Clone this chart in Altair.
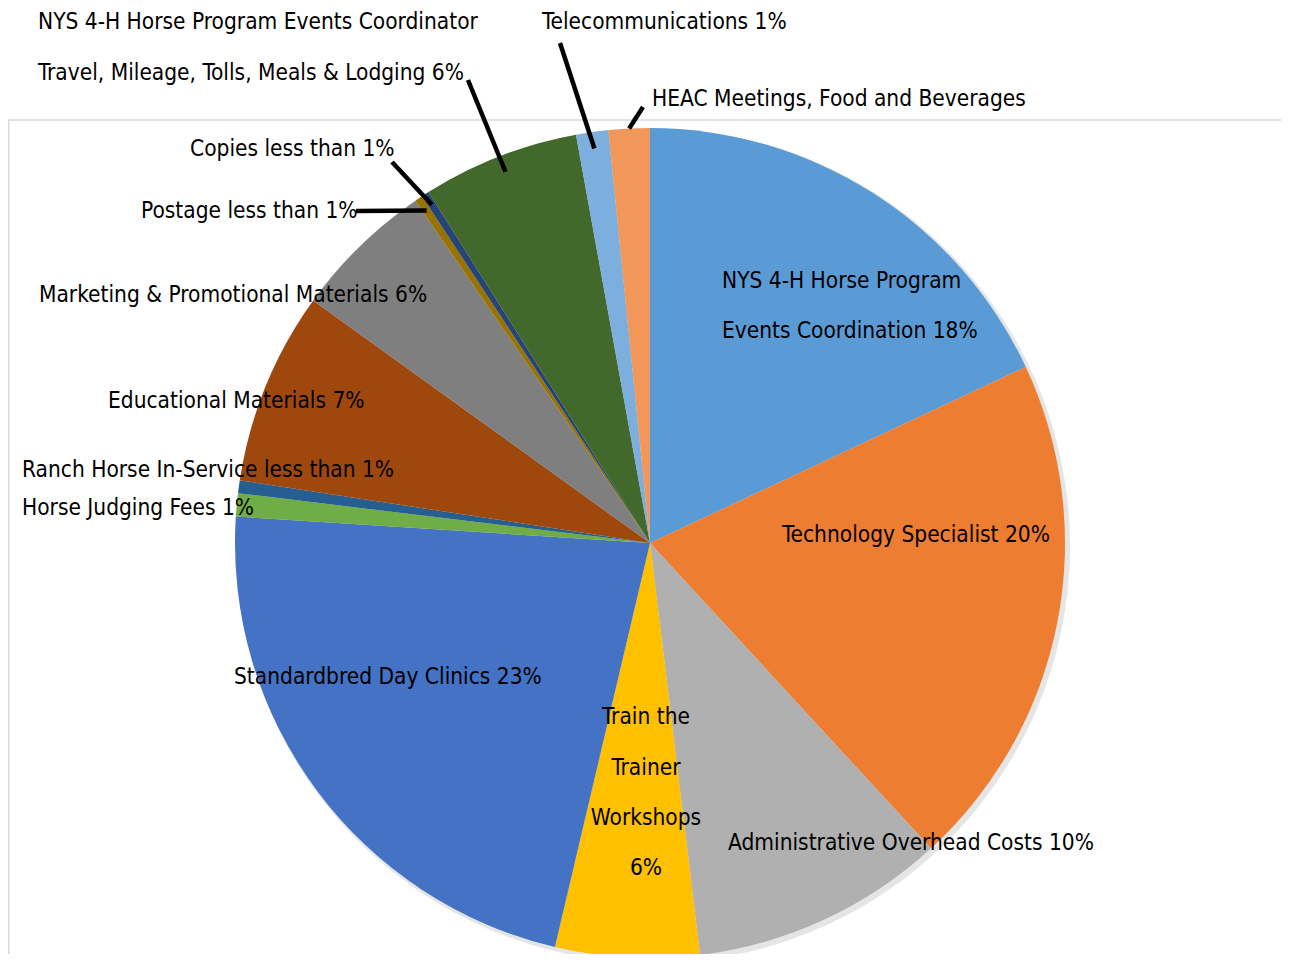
import math
import altair as alt
import pandas as pd

# ---------------- data ----------------
categories = [
    "NYS 4-H Horse Program Events Coordination",
    "Technology Specialist",
    "Administrative Overhead Costs",
    "Train the Trainer Workshops",
    "Standardbred Day Clinics",
    "Horse Judging Fees",
    "Ranch Horse In-Service",
    "Educational Materials",
    "Marketing & Promotional Materials",
    "Postage",
    "Copies",
    "Travel, Mileage, Tolls, Meals & Lodging",
    "Telecommunications",
    "HEAC Meetings, Food and Beverages",
]
values = [18.0, 20.1, 9.9, 5.6, 22.3, 0.9, 0.5, 7.5, 5.5, 0.3, 0.3, 6.1, 1.25, 1.6]
colors = [
    "#5B9BD5", "#ED7D31", "#B0B0B0", "#FFC000", "#4472C4", "#70AD47", "#255E91",
    "#9E480E", "#7F7F7F", "#997300", "#264478", "#43682B", "#7CAFDD", "#F1975A",
]

# label texts (one entry per printed line)
label_texts = [
    "NYS 4-H Horse Program Events Coordinator",
    "Travel, Mileage, Tolls, Meals & Lodging 6%",
    "Telecommunications 1%",
    "HEAC Meetings, Food and Beverages",
    "Copies less than 1%",
    "Postage less than 1%",
    "Marketing & Promotional Materials 6%",
    "Educational Materials 7%",
    "Ranch Horse In-Service less than 1%",
    "Horse Judging Fees 1%",
    "NYS 4-H Horse Program",
    "Events Coordination 18%",
    "Technology Specialist 20%",
    "Standardbred Day Clinics 23%",
    "Administrative Overhead Costs 10%",
]
center_texts = ["Train the", "Trainer", "Workshops", "6%"]

# ---------------- layout (styles, page px minus 8px margin) ----------------
W, H = 1273, 946
CX, CY, R = 642, 535, 415
FONT = "Liberation Sans Narrow, DejaVu Sans Condensed, sans-serif"
FS = 22.5

label_pos = [
    (30, 14), (30, 65), (534, 14), (644, 91), (182, 141), (133, 203),
    (31, 287), (100, 393), (14, 462), (14, 500),
    (714, 273), (714, 323), (774, 527), (226, 669), (720, 835),
]
center_pos = [(638, 709), (638, 760), (638, 810), (638, 860)]

leader_cats = [
    "Travel, Mileage, Tolls, Meals & Lodging",
    "Telecommunications",
    "HEAC Meetings, Food and Beverages",
    "Copies",
    "Postage",
]
leader_end = [(460, 72), (552, 35), (635, 99), (384, 154), (348, 203)]
leader_rf = [0.96, 0.96, 1.0, 0.97, 0.965]

# ---------------- tables ----------------
df = pd.DataFrame({"category": categories, "value": values, "idx": range(len(categories))})
leader_df = pd.DataFrame({
    "category": leader_cats,
    "lx": [p[0] for p in leader_end],
    "ly": [p[1] for p in leader_end],
    "rf": leader_rf,
})
lab_df = pd.DataFrame({
    "text": label_texts,
    "tx": [p[0] for p in label_pos],
    "ty": [p[1] for p in label_pos],
})
cen_df = pd.DataFrame({
    "text": center_texts,
    "tx": [p[0] for p in center_pos],
    "ty": [p[1] for p in center_pos],
})

frame = alt.Chart(pd.DataFrame({"d": [0]})).mark_rule(color="#D9D9D9", strokeWidth=1.5)
frame_top = frame.encode(x=alt.value(0), x2=alt.value(W), y=alt.value(112))
frame_left = frame.encode(x=alt.value(0.75), y=alt.value(112), y2=alt.value(H))

shadow = alt.Chart(df).mark_arc(radius=R + 2, strokeWidth=0, color="black", opacity=0.10).encode(
    theta=alt.Theta("value:Q", stack=True),
    order=alt.Order("idx:Q"),
    x=alt.value(CX + 3),
    y=alt.value(CY + 3),
)

pie = alt.Chart(df).mark_arc(radius=R, strokeWidth=0).encode(
    theta=alt.Theta("value:Q", stack=True),
    color=alt.Color("category:N", scale=alt.Scale(domain=categories, range=colors), legend=None),
    order=alt.Order("idx:Q"),
    x=alt.value(CX),
    y=alt.value(CY),
)

leaders = (
    alt.Chart(df)
    .transform_window(cum="sum(value)", sort=[alt.SortField("idx")], frame=[None, 0])
    .transform_joinaggregate(total="sum(value)")
    .transform_lookup(lookup="category", from_=alt.LookupData(leader_df, "category", ["lx", "ly", "rf"]))
    .transform_filter("isValid(datum.lx)")
    .transform_calculate(ang="2*PI*(datum.cum - datum.value/2)/datum.total")
    .transform_calculate(
        ax=f"{CX} + {R}*datum.rf*sin(datum.ang)",
        ay=f"{CY} - {R}*datum.rf*cos(datum.ang)",
    )
    .mark_rule(color="black", strokeWidth=4.5)
    .encode(
        x=alt.X("ax:Q", scale=None, axis=None),
        y=alt.Y("ay:Q", scale=None, axis=None),
        x2="lx:Q",
        y2="ly:Q",
    )
)

labels = alt.Chart(lab_df).mark_text(
    align="left", baseline="middle", font=FONT, fontSize=FS, color="black"
).encode(
    x=alt.X("tx:Q", scale=None, axis=None),
    y=alt.Y("ty:Q", scale=None, axis=None),
    text="text:N",
)

clabels = alt.Chart(cen_df).mark_text(
    align="center", baseline="middle", font=FONT, fontSize=FS, color="black"
).encode(
    x=alt.X("tx:Q", scale=None, axis=None),
    y=alt.Y("ty:Q", scale=None, axis=None),
    text="text:N",
)

chart = (
    alt.layer(frame_top, frame_left, shadow, pie, leaders, labels, clabels)
    .properties(width=W, height=H, autosize=alt.AutoSizeParams(type="none"), padding=0)
    .configure_view(stroke=None)
)

chart.save("out.html", embed_options={"renderer": "svg", "actions": False})
